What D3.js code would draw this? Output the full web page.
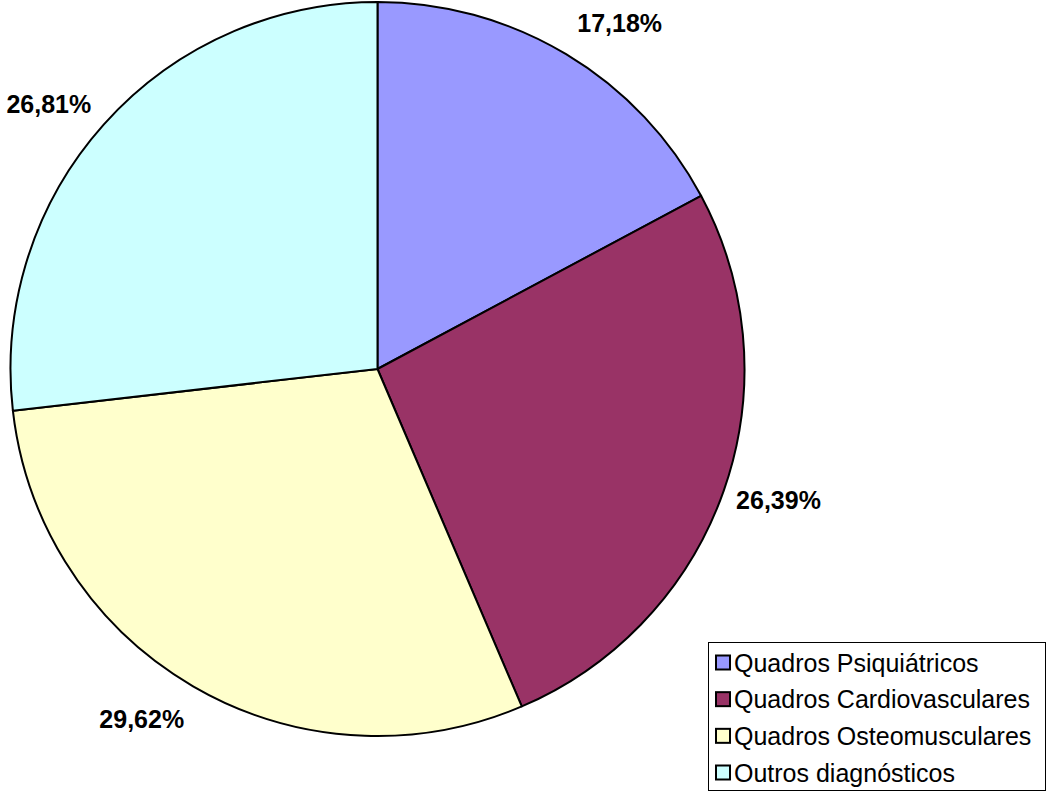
<!DOCTYPE html>
<html><head><meta charset="utf-8">
<script src="https://cdn.jsdelivr.net/npm/d3@7"></script>
<style>html,body{margin:0;padding:0;background:#fff;}svg{display:block;}</style>
</head><body>
<svg id="chart" width="1046" height="792"></svg>
<script>
const categories = ["Quadros Psiquiátricos","Quadros Cardiovasculares","Quadros Osteomusculares","Outros diagnósticos"];
const values = [17.18, 26.39, 29.62, 26.81];
const labels = ["17,18%","26,39%","29,62%","26,81%"];
const colors = ["#9999FF","#993366","#FFFFCC","#CCFFFF"];

// layout
const cx = 377.5, cy = 369, R = 367;
const labelR = 422;
const labelAngleShift = [4.1, -1.2, 3.8, -2.9]; // degrees, best-fit offsets
const svg = d3.select("#chart");
const pie = d3.pie().sort(null).value(d => d)(values);
const arc = d3.arc().innerRadius(0).outerRadius(R);
const g = svg.append("g").attr("transform", `translate(${cx},${cy})`);
g.selectAll("path").data(pie).join("path")
  .attr("d", arc).attr("fill", (d,i) => colors[i])
  .attr("stroke", "#000").attr("stroke-width", 2).attr("stroke-linejoin","round");

g.selectAll("text.lbl").data(pie).join("text").attr("class","lbl")
  .attr("x", (d,i) => labelR * Math.sin((d.startAngle+d.endAngle)/2 + labelAngleShift[i]*Math.PI/180))
  .attr("y", (d,i) => -labelR * Math.cos((d.startAngle+d.endAngle)/2 + labelAngleShift[i]*Math.PI/180))
  .attr("dy","0.36em").attr("text-anchor","middle")
  .attr("font-family","Liberation Sans, Arial, sans-serif").attr("font-weight","bold").attr("font-size",25)
  .attr("fill","#000").text((d,i) => labels[i]);

// legend
const lx = 708, ly = 642, lw = 337, lh = 148;
svg.append("rect").attr("x", lx+0.5).attr("y", ly+0.5).attr("width", lw).attr("height", lh)
  .attr("fill","#fff").attr("stroke","#000").attr("stroke-width",1);
const rowY = d3.scalePoint().domain(d3.range(categories.length)).range([ly+20.5, ly+130.5]);
const items = svg.selectAll("g.item").data(categories).join("g").attr("class","item")
  .attr("transform", (d,i) => `translate(${lx},${rowY(i)})`);
items.append("rect").attr("x", 8).attr("y", -7).attr("width", 14).attr("height", 14)
  .attr("fill", (d,i) => colors[i]).attr("stroke","#000").attr("stroke-width",2);
items.append("text").attr("x", 26).attr("dy","0.36em")
  .attr("font-family","Liberation Sans, Arial, sans-serif").attr("font-size",25)
  .attr("fill","#000").text(d => d);
</script>
</body></html>
